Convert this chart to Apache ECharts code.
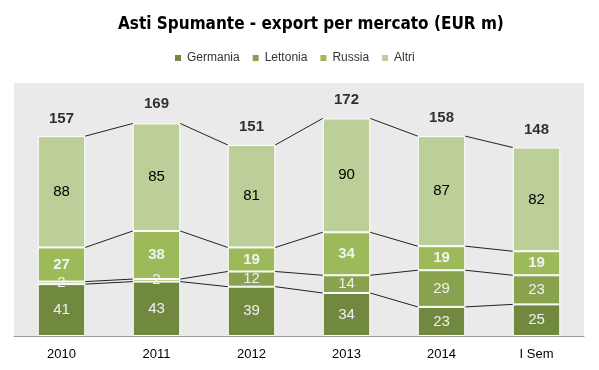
<!DOCTYPE html>
<html>
<head>
<meta charset="utf-8">
<script src="https://cdn.jsdelivr.net/npm/echarts@6/dist/echarts.min.js"></script>
<style>html,body{margin:0;padding:0;background:#fff}#c{width:599px;height:370px}</style>
</head>
<body>
<div id="c"></div>
<script>
var categories = ['2010', '2011', '2012', '2013', '2014', 'I Sem'];
var germania = [41, 43, 39, 34, 23, 25];
var lettonia = [2, 2, 12, 14, 29, 23];
var russia = [27, 38, 19, 34, 19, 19];
var altri = [88, 85, 81, 90, 87, 82];
var totals = [157, 169, 151, 172, 158, 148];

var colors = ['#71893f', '#89a24e', '#9cba59', '#bccf98'];
var FONT = '"Liberation Sans", Arial, sans-serif';

// cumulative levels for connecting lines
var cumData = categories.map(function (c, i) {
  var c1 = germania[i], c2 = c1 + lettonia[i], c3 = c2 + russia[i], c4 = c3 + altri[i];
  return [i, c1, c2, c3, c4];
});

function segLabel(color, bold) {
  return {
    show: true, position: 'inside', color: color, fontSize: 15,
    fontWeight: bold ? 'bold' : 'normal', fontFamily: FONT
  };
}
function barSeries(name, data, color, label) {
  return {
    name: name, type: 'bar', stack: 'tot', data: data, barWidth: '50%',
    itemStyle: { color: color, borderColor: '#ffffff', borderWidth: 1 },
    label: label, z: 3
  };
}

var chart = echarts.init(document.getElementById('c'), null, { renderer: 'canvas' });
chart.setOption({
  animation: false,
  title: {
    text: 'Asti Spumante - export per mercato (EUR m)',
    left: 113, top: 11,
    textStyle: { fontFamily: '"DejaVu Sans Condensed", "Liberation Sans Narrow", sans-serif', fontSize: 17, fontWeight: 'bold', color: '#000' }
  },
  legend: {
    data: ['Germania', 'Lettonia', 'Russia', 'Altri'],
    top: 47, left: 168, icon: 'rect', itemWidth: 8, itemHeight: 8, itemGap: 11,
    textStyle: { fontFamily: FONT, fontSize: 12, color: '#333' }
  },
  grid: {
    left: 14, right: 15, top: 83, bottom: 34, show: true,
    backgroundColor: '#eaeaea', borderWidth: 0
  },
  xAxis: {
    type: 'category', data: categories,
    axisLine: { lineStyle: { color: '#999', width: 1 } },
    axisTick: { show: false },
    axisLabel: { fontFamily: FONT, fontSize: 13, color: '#000', margin: 12 }
  },
  yAxis: {
    type: 'value', min: 0, max: 200, interval: 50, show: false,
    splitLine: { show: false }
  },
  series: [
    barSeries('Germania', germania, colors[0], segLabel('#f0f0f0', false)),
    barSeries('Lettonia', lettonia, colors[1], segLabel('#f0f0f0', false)),
    barSeries('Russia', russia, colors[2], segLabel('#f2f2f2', true)),
    barSeries('Altri', altri, colors[3], segLabel('#000000', false)),
    {
      type: 'custom', data: cumData, z: 2,
      encode: { x: 0, y: [1, 2, 3, 4] },
      renderItem: function (params, api) {
        var i = params.dataIndex;
        var n = cumData.length;
        if (i >= n - 1) return { type: 'group', children: [] };
        var bw = api.size([1, 0])[0] * 0.5;
        var children = [];
        for (var k = 1; k <= 4; k++) {
          var p1 = api.coord([i, cumData[i][k]]);
          var p2 = api.coord([i + 1, cumData[i + 1][k]]);
          children.push({
            type: 'line',
            shape: { x1: p1[0] + bw / 2, y1: p1[1], x2: p2[0] - bw / 2, y2: p2[1] },
            style: { stroke: '#222', lineWidth: 1 }
          });
        }
        return { type: 'group', children: children };
      }
    },
    {
      type: 'scatter', data: totals, symbolSize: 0, z: 5,
      label: {
        show: true, position: 'top', distance: 11, color: '#000',
        fontSize: 15, fontWeight: 'bold', fontFamily: FONT
      }
    }
  ]
});
</script>
</body>
</html>
